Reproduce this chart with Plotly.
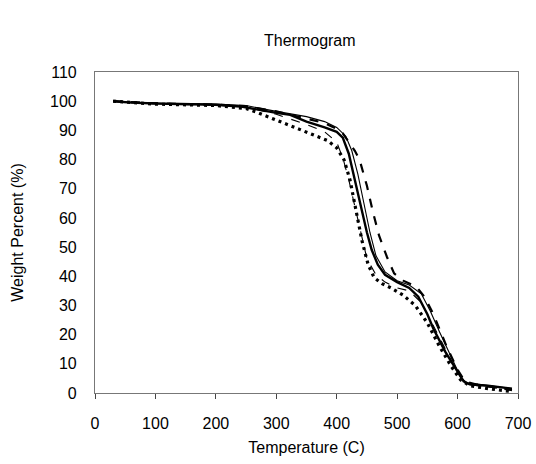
import plotly.graph_objects as go

# Thick solid
t_thick = [30, 60, 100, 150, 200, 240, 270, 300, 323, 350, 380, 400, 410, 420, 430, 440, 450, 458, 468, 480, 500, 520, 535, 550, 560, 580, 600, 610, 620, 650, 690]
w_thick = [100, 99.5, 99.2, 99, 98.8, 98.2, 97, 96, 95.3, 93, 91, 89.5, 87.5, 82, 73, 64, 55, 49, 44, 40.5, 38, 36, 33, 27, 22, 14, 7, 4, 3, 2.5, 1.5]

# Thin solid
t_thin = [30, 100, 200, 250, 300, 350, 380, 400, 415, 425, 435, 445, 455, 465, 480, 500, 520, 540, 555, 570, 590, 605, 615, 650, 690]
w_thin = [100, 99.3, 99, 98.5, 96.5, 94.7, 93, 91, 88, 83, 75, 65, 55, 47, 41.5, 38.5, 37, 34, 28, 21, 12, 5.5, 3.5, 2.5, 1.5]

# Thick dashed
t_dash = [30, 100, 200, 250, 300, 350, 380, 400, 410, 420, 430, 438, 450, 460, 470, 483, 495, 510, 532, 545, 560, 582, 600, 612, 630, 660, 690]
w_dash = [100, 99.2, 98.8, 98.3, 96.5, 94, 92.5, 90.5, 89, 86, 83, 79.8, 71, 62, 54, 46.7, 41, 38.5, 36.4, 33, 27, 15.9, 8, 4, 3, 2, 1]

# Dotted
t_dot = [30, 100, 200, 250, 270, 300, 330, 360, 385, 400, 412, 422, 432, 442, 452, 462, 475, 490, 510, 530, 550, 570, 590, 605, 620, 650, 690]
w_dot = [100, 99, 98.5, 97.5, 96, 93.5, 91, 88.5, 86.5, 84, 80, 73, 63, 52, 44, 39.5, 37.5, 36, 33.5, 30, 24, 16, 9, 4.5, 2.5, 1.5, 0.5]

# Thin dashed
t_tdash = [30, 200, 250, 300, 350, 380, 400, 411, 420, 430, 440, 450, 465, 480, 500, 520, 540, 560, 580, 600, 615, 650, 690]
w_tdash = [100, 98.7, 98, 95.5, 92, 89.5, 86, 80, 73, 64, 54, 46, 40.5, 38, 36, 35, 31, 23, 15, 7, 3, 2, 1]

x_ticks = [0, 100, 200, 300, 400, 500, 600, 700]
y_ticks = [0, 10, 20, 30, 40, 50, 60, 70, 80, 90, 100, 110]

fig = go.Figure()
fig.add_trace(go.Scatter(x=t_dot, y=w_dot, mode="lines", line=dict(color="black", width=3.2, dash="3px,4px")))
fig.add_trace(go.Scatter(x=t_tdash, y=w_tdash, mode="lines", line=dict(color="black", width=1.1, dash="dash")))
fig.add_trace(go.Scatter(x=t_thin, y=w_thin, mode="lines", line=dict(color="black", width=1.1)))
fig.add_trace(go.Scatter(x=t_dash, y=w_dash, mode="lines", line=dict(color="black", width=2.2, dash="dash")))
fig.add_trace(go.Scatter(x=t_thick, y=w_thick, mode="lines", line=dict(color="black", width=2.4)))

fig.update_layout(
    width=536, height=464,
    margin=dict(l=95, r=18, t=72, b=71),
    paper_bgcolor="white", plot_bgcolor="white",
    showlegend=False,
    font=dict(family="Liberation Sans, Arial, sans-serif", color="black"),
    title=dict(text="Thermogram", x=0.578, xanchor="center", y=0.914, yanchor="middle",
               font=dict(size=16)),
    xaxis=dict(range=[0, 700], tickvals=x_ticks, ticks="outside", ticklen=5, tickcolor="#444",
               showgrid=False, zeroline=False, showline=True, linecolor="#777", linewidth=1.2,
               mirror=True, tickfont=dict(size=16), ticklabelstandoff=11, automargin=False,
               title=dict(text="Temperature (C)", font=dict(size=16), standoff=10)),
    yaxis=dict(range=[0, 110], tickvals=y_ticks, ticks="", showgrid=False, zeroline=False,
               showline=True, linecolor="#777", linewidth=1.2, mirror=True,
               tickfont=dict(size=16), ticklabelstandoff=14, automargin=False,
               title=dict(text="Weight Percent (%)", font=dict(size=16), standoff=22)),
)

fig.write_html("out.html", config={"displayModeBar": False},
               post_script="document.body.style.margin='0';")
